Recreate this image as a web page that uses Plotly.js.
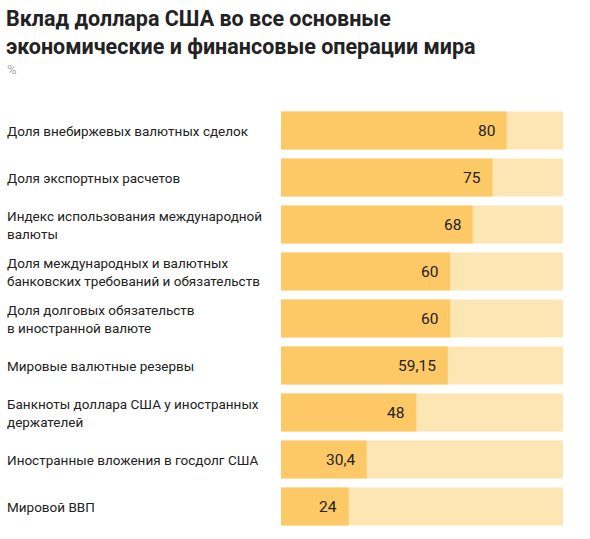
<!DOCTYPE html>
<html><head><meta charset="utf-8">
<script src="https://cdn.plot.ly/plotly-3.0.1.min.js"></script>
<style>body{margin:0;background:#fff}#c{width:590px;height:539px}</style>
</head><body><div id="c"></div>
<script>
const categories = [
  "Доля внебиржевых валютных сделок",
  "Доля экспортных расчетов",
  "Индекс использования международной<br>валюты",
  "Доля международных и валютных<br>банковских требований и обязательств",
  "Доля долговых обязательств<br>в иностранной валюте",
  "Мировые валютные резервы",
  "Банкноты доллара США у иностранных<br>держателей",
  "Иностранные вложения в госдолг США",
  "Мировой ВВП"
];
const values = [80, 75, 68, 60, 60, 59.15, 48, 30.4, 24];
const valueLabels = ["80", "75", "68", "60", "60", "59,15", "48", "30,4", "24"];
const fullScale = [100, 100, 100, 100, 100, 100, 100, 100, 100];

const font = "Roboto, Inter, 'Noto Sans', sans-serif";
const ids = categories.map((_, i) => "c" + i);

const traces = [
  {type: "bar", orientation: "h", y: ids, x: fullScale, marker: {color: "#FDE6B4"}, hoverinfo: "skip"},
  {type: "bar", orientation: "h", y: ids, x: values, marker: {color: "#FDC966"}, hoverinfo: "skip"}
];

const annotations = [];
categories.forEach((c, i) => {
  annotations.push({xref: "paper", yref: "y", x: -0.979, y: ids[i], xanchor: "left", yanchor: "middle",
    text: c, showarrow: false, align: "left", font: {family: font, size: 13.5, color: "#222"}});
  annotations.push({xref: "x", yref: "y", x: values[i], y: ids[i], xanchor: "right", yanchor: "middle",
    xshift: -10, text: valueLabels[i], showarrow: false, font: {family: font, size: 15.5, color: "#222"}});
});
annotations.push({xref: "paper", yref: "paper", x: -0.979, y: 1, yshift: 38, xanchor: "left", yanchor: "middle",
  text: "%", showarrow: false, font: {family: font, size: 13, color: "#aaa"}});
annotations.push({xref: "paper", yref: "paper", x: -0.983, y: 1, yshift: 103, xanchor: "left", yanchor: "top",
  align: "left", showarrow: false,
  text: "<b>Вклад доллара США во все основные<br>экономические и финансовые операции мира</b>",
  font: {family: font, size: 21.5, color: "#222"}});

const layout = {
  width: 590, height: 539,
  margin: {l: 281, r: 27, t: 106.5, b: 9},
  paper_bgcolor: "#fff", plot_bgcolor: "#fff",
  barmode: "overlay", bargap: 0.19, showlegend: false,
  xaxis: {range: [0, 100], visible: false, fixedrange: true},
  yaxis: {type: "category", autorange: "reversed", visible: false, fixedrange: true},
  annotations: annotations
};
Plotly.newPlot("c", traces, layout, {displayModeBar: false, staticPlot: true});
</script></body></html>
